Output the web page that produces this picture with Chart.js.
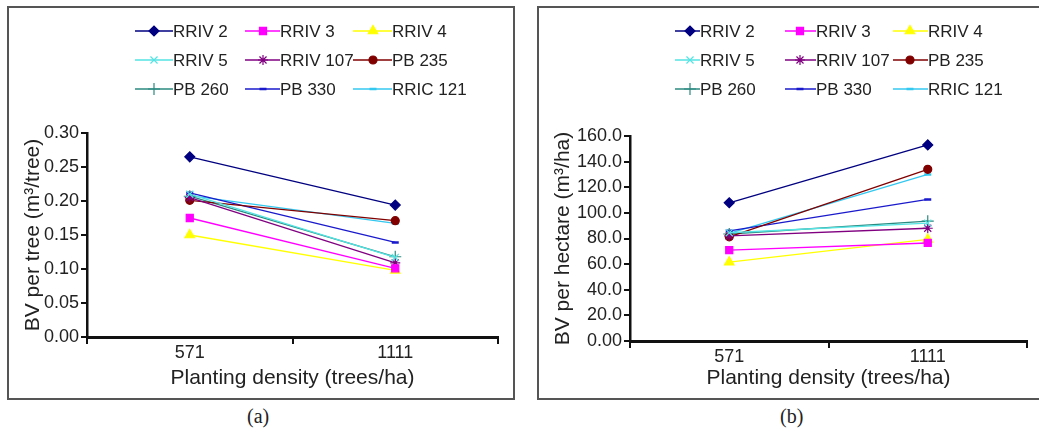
<!DOCTYPE html>
<html>
<head>
<meta charset="utf-8">
<script src="https://cdn.jsdelivr.net/npm/chart.js@4/dist/chart.umd.min.js"></script>
<style>
  html, body { margin: 0; padding: 0; background: #fff; overflow: hidden; }
  #wrap { width: 1039px; height: 433px; position: relative; overflow: hidden; }
  .panel { position: absolute; top: 6px; border: 2px solid #555; background: #fff; }
  .panel canvas { display: block; }
  .cap { position: absolute; top: 405px; font-family: 'Liberation Serif', 'Times New Roman', serif; font-size: 20px; color: #222; }
</style>
</head>
<body>
<div id="wrap">
<div class="panel" style="left:7px; width:504px; height:390px;"><canvas id="chart_a" width="504" height="390"></canvas></div>
<div class="panel" style="left:537px; width:524px; height:390px; border-right:none;"><canvas id="chart_b" width="524" height="390"></canvas></div>
<div class="cap" style="left:247px;">(a)</div>
<div class="cap" style="left:780px;">(b)</div>
</div>
<script>
// ข้อมูล
const densities = ['571', '1111'];
const clones = ['RRIV 2', 'RRIV 3', 'RRIV 4', 'RRIV 5', 'RRIV 107', 'PB 235', 'PB 260', 'PB 330', 'RRIC 121'];

// BV per tree (m3/tree)
const perTree_RRIV2   = [0.265, 0.194];
const perTree_RRIV3   = [0.175, 0.101];
const perTree_RRIV4   = [0.150, 0.098];
const perTree_RRIV5   = [0.210, 0.117];
const perTree_RRIV107 = [0.205, 0.109];
const perTree_PB235   = [0.201, 0.171];
const perTree_PB260   = [0.207, 0.118];
const perTree_PB330   = [0.212, 0.139];
const perTree_RRIC121 = [0.208, 0.167];

// BV per hectare (m3/ha)
const perHa_RRIV2   = [107.9, 153.0];
const perHa_RRIV3   = [71.0, 76.5];
const perHa_RRIV4   = [61.5, 79.3];
const perHa_RRIV5   = [84.5, 92.0];
const perHa_RRIV107 = [82.0, 88.0];
const perHa_PB235   = [81.3, 134.0];
const perHa_PB260   = [83.5, 93.5];
const perHa_PB330   = [86.0, 110.5];
const perHa_RRIC121 = [84.0, 130.0];

const yTicksTree = [0, 0.30, 0.05];
const yTicksHa = [0, 160, 20];

const perTree = [perTree_RRIV2, perTree_RRIV3, perTree_RRIV4, perTree_RRIV5, perTree_RRIV107,
                 perTree_PB235, perTree_PB260, perTree_PB330, perTree_RRIC121];
const perHa = [perHa_RRIV2, perHa_RRIV3, perHa_RRIV4, perHa_RRIV5, perHa_RRIV107,
               perHa_PB235, perHa_PB260, perHa_PB330, perHa_RRIC121];

// สี / marker ของแต่ละพันธุ์
const colors = ['#000080', '#ff00ff', '#ffff00', '#55e3e3', '#800080', '#800000', '#2b8a80', '#1a1acc', '#33c8f0'];
const markers = ['rectRot', 'rect', 'triangle', 'crossRot', 'star', 'circle', 'cross', 'line', 'line'];
const markerSize = [5, 5, 5.5, 5, 5, 4, 6, 3.5, 3.5];

Chart.defaults.font.family = "Arial, 'Liberation Sans', sans-serif";
Chart.defaults.color = '#222';

// legend แบบตาราง 3 คอลัมน์
const gridLegend = {
  id: 'gridLegend',
  afterDraw(chart, args, opts) {
    const ctx = chart.ctx;
    ctx.save();
    ctx.font = opts.font;
    ctx.textBaseline = 'middle';
    ctx.textAlign = 'left';
    chart.data.datasets.forEach((ds, i) => {
      const col = i % 3, row = Math.floor(i / 3);
      const y = opts.rowY[row];
      ctx.strokeStyle = ds.borderColor;
      ctx.lineWidth = 1.5;
      ctx.beginPath();
      ctx.moveTo(opts.lineStart[col], y);
      ctx.lineTo(opts.textX[col], y);
      ctx.stroke();
      ctx.fillStyle = ds.pointBackgroundColor;
      ctx.strokeStyle = ds.pointBorderColor;
      ctx.lineWidth = ds.pointBorderWidth;
      Chart.helpers.drawPoint(ctx, {
        pointStyle: ds.pointStyle, radius: ds.pointRadius,
        borderWidth: ds.pointBorderWidth, rotation: 0
      }, opts.markX[col], y);
      ctx.fillStyle = '#222';
      ctx.fillText(ds.label, opts.textX[col], y + 1);
    });
    ctx.restore();
  }
};

function makeDatasets(values) {
  return clones.map((name, i) => ({
    label: name,
    data: values[i],
    borderColor: colors[i],
    backgroundColor: colors[i],
    pointBackgroundColor: colors[i],
    pointBorderColor: colors[i],
    borderWidth: 1.3,
    pointStyle: markers[i],
    pointRadius: markerSize[i],
    pointBorderWidth: markers[i] === 'line' ? 2.5 : 1.2,
    tension: 0
  }));
}

function makeConfig(values, yRange, fmt, yTitle, box, legendPos) {
  return {
    type: 'line',
    data: { labels: densities, datasets: makeDatasets(values) },
    options: {
      responsive: false,
      animation: false,
      layout: { padding: { top: box.top, right: box.right, left: 0, bottom: 0 } },
      plugins: {
        legend: { display: false },
        tooltip: { enabled: false },
        gridLegend: legendPos
      },
      scales: {
        x: {
          offset: true,
          afterFit: s => { s.height = box.xh; },
          grid: { drawOnChartArea: false, drawTicks: true, tickLength: 7, color: '#111', lineWidth: 2, offset: true },
          border: { display: true, color: '#111', width: 3 },
          ticks: { font: { size: 18 }, padding: -2, color: '#222' },
          title: { display: true, text: 'Planting density (trees/ha)', font: { size: 21 }, color: '#222', padding: { top: 0, bottom: 7 } }
        },
        y: {
          min: yRange[0],
          max: yRange[1],
          afterFit: s => { s.width = box.yw; },
          grid: { drawOnChartArea: false, drawTicks: true, tickLength: 6, color: '#111', lineWidth: 2 },
          border: { display: true, color: '#111', width: 2.5 },
          ticks: { stepSize: yRange[2], font: { size: 18 }, padding: 2, color: '#222', callback: fmt },
          title: { display: true, text: yTitle, font: { size: 21 }, color: '#222', padding: { top: 12, bottom: 0 } }
        }
      }
    },
    plugins: [gridLegend]
  };
}

const chartA = new Chart(document.getElementById('chart_a').getContext('2d'),
  makeConfig(perTree, yTicksTree, v => Number(v).toFixed(2), 'BV per tree (m³/tree)',
    { top: 125, right: 15, xh: 61, yw: 78 },
    { font: "17px Arial, 'Liberation Sans', sans-serif", rowY: [23, 52, 81],
      lineStart: [126, 236, 344], textX: [164, 271, 383], markX: [145, 254, 364] }));

const chartB = new Chart(document.getElementById('chart_b').getContext('2d'),
  makeConfig(perHa, yTicksHa, v => (v === 0 ? '0.00' : Number(v).toFixed(1)), 'BV per hectare (m³/ha)',
    { top: 128, right: 36, xh: 57, yw: 91 },
    { font: "17px Arial, 'Liberation Sans', sans-serif", rowY: [23, 52, 81],
      lineStart: [136, 246, 354], textX: [161, 277, 389], markX: [151, 261, 371] }));
</script>
</body>
</html>
